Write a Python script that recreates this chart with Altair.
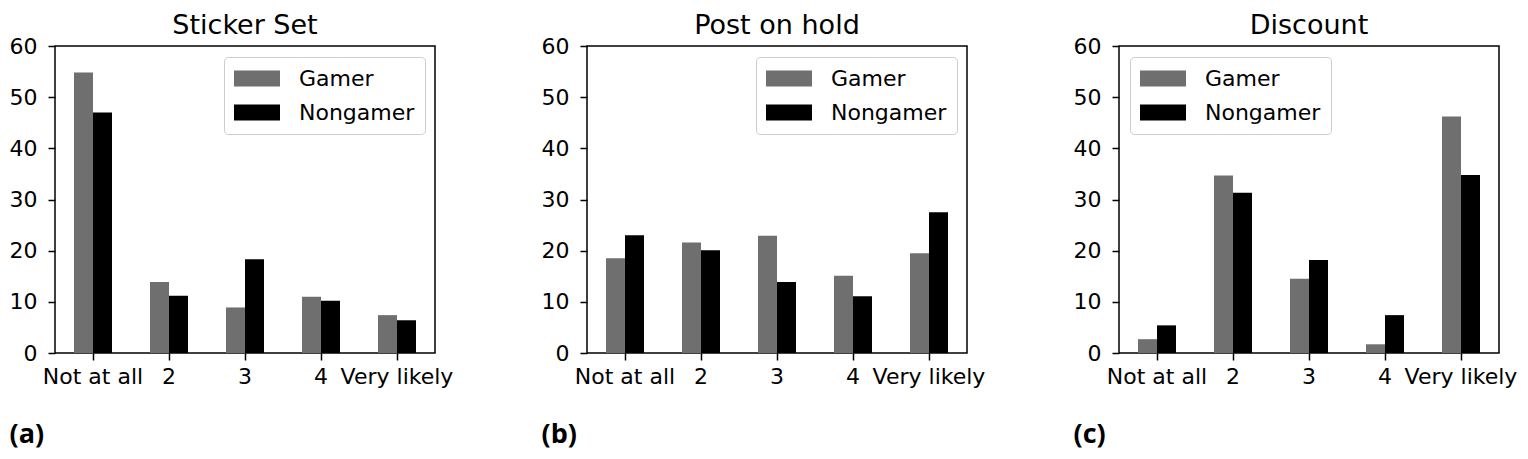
import altair as alt
import pandas as pd

categories = ["Not at all", "2", "3", "4", "Very likely"]
groups = ["Gamer", "Nongamer"]
group_colors = ["#6f6f6f", "#000000"]
panel_titles = ["Sticker Set", "Post on hold", "Discount"]
panel_tags = ["(a)", "(b)", "(c)"]
y_ticks = [0, 10, 20, 30, 40, 50, 60]

sticker_gamer = [54.8, 13.9, 8.9, 11.0, 7.4]
sticker_nongamer = [47.0, 11.2, 18.3, 10.2, 6.4]
hold_gamer = [18.5, 21.6, 22.9, 15.1, 19.5]
hold_nongamer = [23.0, 20.1, 13.9, 11.1, 27.5]
discount_gamer = [2.7, 34.7, 14.5, 1.7, 46.2]
discount_nongamer = [5.4, 31.3, 18.2, 7.4, 34.8]

PLOT_W = 380
PLOT_H = 307
LEGEND_W = 200
LEGEND_GAP = 11

series = [
    (sticker_gamer, sticker_nongamer, PLOT_W - LEGEND_W - LEGEND_GAP),
    (hold_gamer, hold_nongamer, PLOT_W - LEGEND_W - LEGEND_GAP),
    (discount_gamer, discount_nongamer, LEGEND_GAP),
]

FONT = "DejaVu Sans"


def panel(i, gamer, nongamer, legend_x):
    df = pd.DataFrame({
        "category": categories * 2,
        "group": [groups[0]] * len(categories) + [groups[1]] * len(categories),
        "value": gamer + nongamer,
    })
    return alt.Chart(
        df,
        title=alt.TitleParams(
            panel_titles[i], font=FONT, fontSize=27, fontWeight="normal",
            color="black", anchor="middle", offset=-26, baseline="alphabetic",
            frame="group",
        ),
    ).mark_bar().encode(
        x=alt.X(
            "category:N", sort=categories,
            scale=alt.Scale(paddingInner=0.5, paddingOuter=0.25),
            axis=alt.Axis(
                title=panel_tags[i], labelAngle=0, labelOverlap=False,
                titleFont="Open Sans", titleFontWeight="bold", titleFontSize=27,
                titleColor="black", titleX=-46, titleY=81, titleAlign="left",
                titleBaseline="middle", titleAnchor="start",
            ),
        ),
        xOffset=alt.XOffset(
            "group:N", sort=groups,
            scale=alt.Scale(paddingInner=0, paddingOuter=0),
        ),
        y=alt.Y(
            "value:Q",
            scale=alt.Scale(domain=[0, 60], nice=False),
            axis=alt.Axis(values=y_ticks, title=None),
        ),
        color=alt.Color(
            "group:N", sort=groups,
            scale=alt.Scale(domain=groups, range=group_colors),
            legend=alt.Legend(
                title=None, orient="none", legendX=legend_x, legendY=LEGEND_GAP,
                padding=10,
                strokeColor="#cccccc", fillColor="white", cornerRadius=4,
                symbolType="M-1,-0.7H3V0.7H-1Z", symbolSize=529,
                symbolStrokeWidth=0, symbolOpacity=1,
                labelFont=FONT, labelFontSize=22, labelColor="black",
                labelOffset=42, rowPadding=11,
            ),
        ),
    ).properties(width=PLOT_W, height=PLOT_H)


charts = [panel(i, g, n, x) for i, (g, n, x) in enumerate(series)]

chart = alt.hconcat(
    *charts, spacing=152, bounds="flush",
    padding={"left": 0, "right": 0, "top": 3, "bottom": 5},
).resolve_scale(color="independent").configure_view(
    stroke="black", strokeWidth=1.5
).configure_axis(
    domain=False, grid=False, ticks=True, tickColor="black", tickSize=7,
    tickWidth=1.5, labelFont=FONT, labelFontSize=22, labelColor="black",
).configure_axisX(
    labelPadding=6,
).configure_axisY(
    labelPadding=11,
)

chart.save("out.html", embed_options={"renderer": "svg", "actions": False})
